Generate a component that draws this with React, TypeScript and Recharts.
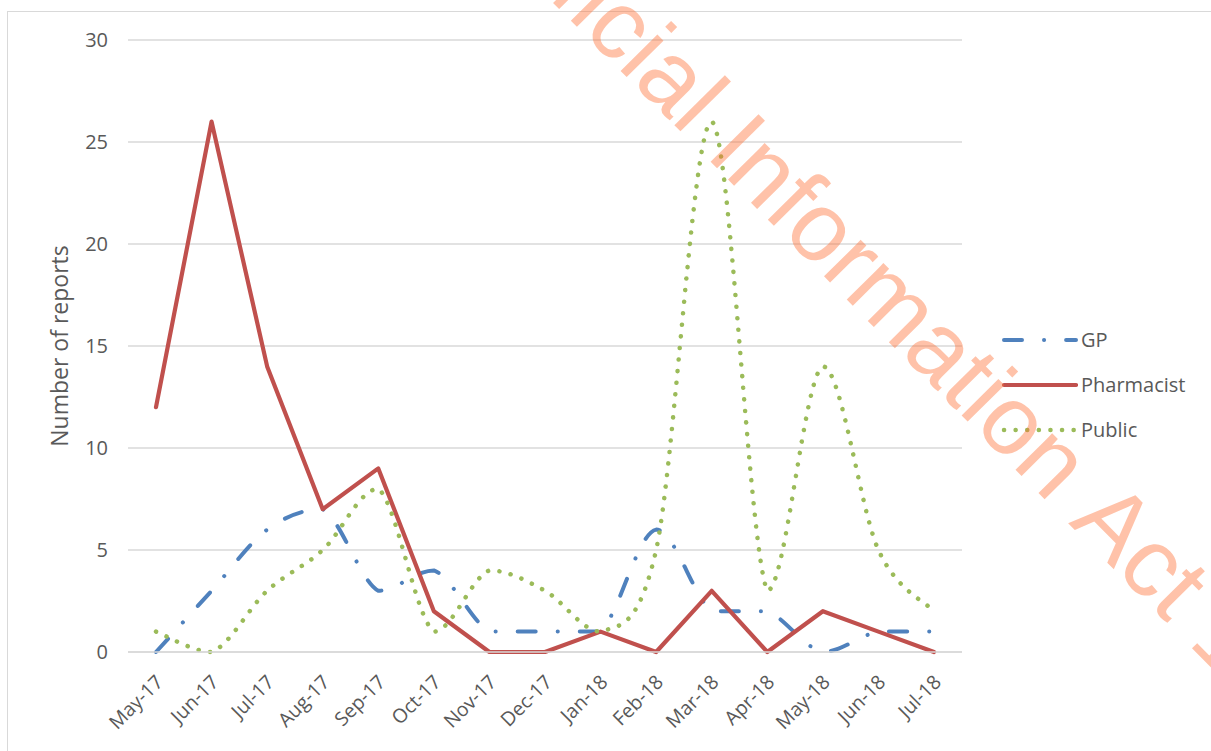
import React from 'react';
import { LineChart, Line, XAxis, YAxis, CartesianGrid } from 'recharts';

// months on the category axis
const months = [
  'May-17', 'Jun-17', 'Jul-17', 'Aug-17', 'Sep-17', 'Oct-17', 'Nov-17', 'Dec-17',
  'Jan-18', 'Feb-18', 'Mar-18', 'Apr-18', 'May-18', 'Jun-18', 'Jul-18',
];

// number of reports by reporter type
const gpReports = [0, 3, 6, 7, 3, 4, 1, 1, 1, 6, 2, 2, 0, 1, 1];
const pharmacistReports = [12, 26, 14, 7, 9, 2, 0, 0, 1, 0, 3, 0, 2, 1, 0];
const publicReports = [1, 0, 3, 5, 8, 1, 4, 3, 1, 5, 26, 3, 14, 5, 2];

const yTicks = [0, 5, 10, 15, 20, 25, 30];

const FONT = '"Open Sans", Lato, sans-serif';
const TEXT = '#595959';

const seriesStyle = {
  GP: { color: '#4F81BD', dash: '18 22 0.1 22', width: 4 },
  Pharmacist: { color: '#C0504D', dash: undefined as string | undefined, width: 4.2 },
  Public: { color: '#9BBB59', dash: '0.1 11.5', width: 4.5 },
};

const data = months.map((m, i) => ({
  month: m,
  GP: gpReports[i],
  Pharmacist: pharmacistReports[i],
  Public: publicReports[i],
}));

const clamp = (v: number, a: number, b: number) => Math.min(Math.max(v, Math.min(a, b)), Math.max(a, b));

// Excel style "smoothed line": cardinal bezier through the points,
// control points kept inside each segment's y range so flat runs stay flat
const excelSmooth = (context: any) => {
  let pts: number[][] = [];
  return {
    areaStart() {},
    areaEnd() {},
    lineStart() {
      pts = [];
    },
    point(x: number, y: number) {
      pts.push([+x, +y]);
    },
    lineEnd() {
      if (!pts.length) return;
      context.moveTo(pts[0][0], pts[0][1]);
      for (let i = 0; i < pts.length - 1; i++) {
        const p0 = pts[i - 1] || pts[i];
        const p1 = pts[i];
        const p2 = pts[i + 1];
        const p3 = pts[i + 2] || p2;
        context.bezierCurveTo(
          p1[0] + (p2[0] - p0[0]) / 6,
          clamp(p1[1] + (p2[1] - p0[1]) / 6, p1[1], p2[1]),
          p2[0] - (p3[0] - p1[0]) / 6,
          clamp(p2[1] - (p3[1] - p1[1]) / 6, p1[1], p2[1]),
          p2[0],
          p2[1],
        );
      }
    },
  };
};

// rotated month label under the axis
const MonthTick = ({ x, y, payload }: any) => (
  <text
    x={x + 3}
    y={y + 18}
    transform={`rotate(-45, ${x + 3}, ${y + 18})`}
    textAnchor="end"
    dominantBaseline="central"
    fill={TEXT}
    fontSize={19.5}
    fontFamily={FONT}
  >
    {payload.value}
  </text>
);

const legendKeys = ['GP', 'Pharmacist', 'Public'] as const;

export default function App() {
  return (
    <div style={{ position: 'absolute', left: 0, top: 0, width: 1211, height: 751, overflow: 'hidden', background: '#fff' }}>
      <div
        style={{
          position: 'absolute',
          left: 7,
          top: 11,
          width: 1300,
          height: 800,
          border: '1.5px solid #D9D9D9',
          boxSizing: 'border-box',
        }}
      />
      <div style={{ position: 'absolute', left: 0, top: 0 }}>
        <LineChart width={1211} height={751} data={data} margin={{ top: 40, right: 249, bottom: 0, left: 58 }}>
          <CartesianGrid vertical={false} stroke="#D9D9D9" strokeWidth={1.5} />
          <XAxis
            dataKey="month"
            axisLine={{ stroke: '#D9D9D9', strokeWidth: 1.5 }}
            tickLine={false}
            interval={0}
            height={99}
            padding={{ left: 28, right: 28 }}
            tick={<MonthTick />}
          />
          <YAxis
            domain={[0, 30]}
            ticks={yTicks}
            axisLine={false}
            tickLine={false}
            width={70}
            tickMargin={14}
            tick={{ fill: TEXT, fontSize: 20, fontFamily: FONT }}
            label={{
              value: 'Number of reports',
              angle: -90,
              position: 'center',
              dx: -33,
              fill: TEXT,
              fontSize: 23,
              fontFamily: FONT,
            }}
          />
          <Line
            dataKey="GP"
            type={excelSmooth as any}
            stroke={seriesStyle.GP.color}
            strokeWidth={seriesStyle.GP.width}
            strokeDasharray={seriesStyle.GP.dash}
            strokeLinecap="round"
            dot={false}
            activeDot={false}
            isAnimationActive={false}
          />
          <Line
            dataKey="Pharmacist"
            type="linear"
            stroke={seriesStyle.Pharmacist.color}
            strokeWidth={seriesStyle.Pharmacist.width}
            strokeLinecap="round"
            strokeLinejoin="round"
            dot={false}
            activeDot={false}
            isAnimationActive={false}
          />
          <Line
            dataKey="Public"
            type={excelSmooth as any}
            stroke={seriesStyle.Public.color}
            strokeWidth={seriesStyle.Public.width}
            strokeDasharray={seriesStyle.Public.dash}
            strokeLinecap="round"
            dot={false}
            activeDot={false}
            isAnimationActive={false}
          />
        </LineChart>
      </div>
      {/* legend on the right, Excel style */}
      <div style={{ position: 'absolute', left: 1000, top: 317, fontFamily: FONT, fontSize: 20, color: TEXT }}>
        {legendKeys.map((k) => {
          const s = seriesStyle[k];
          return (
            <div key={k} style={{ display: 'flex', alignItems: 'center', height: 45 }}>
              <svg width={78} height={10}>
                <line
                  x1={4}
                  y1={5}
                  x2={76}
                  y2={5}
                  stroke={s.color}
                  strokeWidth={s.width}
                  strokeLinecap="round"
                  strokeDasharray={s.dash}
                />
              </svg>
              <span style={{ marginLeft: 3 }}>{k}</span>
            </div>
          );
        })}
      </div>
      {/* watermark stamped over the page */}
      <svg width={1211} height={751} style={{ position: 'absolute', left: 0, top: 0, pointerEvents: 'none' }}>
        <g transform="translate(1068, 523) rotate(45.3)" fill="rgba(255,110,50,0.42)" fontFamily="'Liberation Sans', Arial, sans-serif" fontSize={98}>
          <text x={0} y={0} dx={-27} textAnchor="end">Released under the Official Information</text>
          <text x={0} y={0} textAnchor="start">Act 1982</text>
        </g>
      </svg>
    </div>
  );
}
